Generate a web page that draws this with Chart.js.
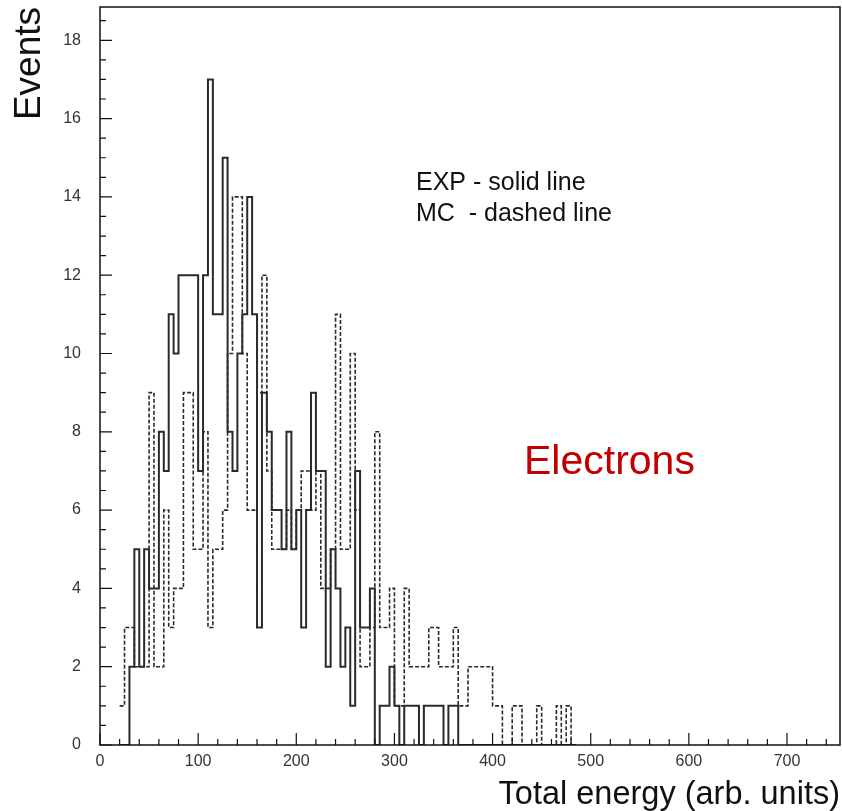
<!DOCTYPE html>
<html>
<head>
<meta charset="utf-8">
<title>Electrons - total energy</title>
<script src="https://cdn.jsdelivr.net/npm/chart.js@4.4.1/dist/chart.umd.min.js"></script>
<style>
  html, body { margin: 0; padding: 0; background: #fff; }
  #wrap { width: 842px; height: 811px; }
</style>
</head>
<body>
<div id="wrap"><canvas id="energyChart" width="842" height="811"></canvas></div>
<script>
// histogram binning, total energy in arb. units
const binStart = 20;
const binWidth = 5;

// EXP events per bin (solid line), first bin starts at binStart
const expCounts = [
  0, 0, 2, 5, 2, 5, 4, 4, 8, 7,
  11, 10, 12, 12, 12, 12, 7, 12, 17, 11,
  11, 15, 8, 7, 10, 11, 14, 11, 3, 9,
  8, 6, 6, 5, 8, 5, 6, 3, 6, 9,
  7, 7, 2, 5, 4, 2, 3, 1, 7, 3,
  3, 4, 0, 1, 1, 2, 1, 0, 1, 1,
  1, 0, 1, 1, 1, 1, 0, 1, 1, 0,
  0, 0, 0, 0, 0, 0, 0, 0, 0, 0,
  0, 0, 0, 0, 0, 0, 0, 0, 0, 0,
  0, 0, 0
];

// MC events per bin (dashed line)
const mcCounts = [
  1, 3, 3, 2, 2, 2, 9, 2, 2, 6,
  3, 4, 4, 9, 9, 5, 5, 8, 3, 5,
  5, 6, 10, 14, 14, 10, 6, 6, 9, 12,
  7, 5, 5, 5, 6, 5, 6, 7, 7, 6,
  7, 4, 4, 5, 11, 5, 5, 10, 6, 2,
  2, 3, 8, 3, 3, 4, 1, 1, 4, 2,
  2, 2, 2, 3, 3, 2, 2, 2, 3, 1,
  1, 2, 2, 2, 2, 2, 1, 1, 0, 0,
  1, 1, 0, 0, 0, 1, 0, 0, 0, 1,
  0, 1, 0
];

const xTicks = [0, 100, 200, 300, 400, 500, 600, 700];
const yTicks = [0, 2, 4, 6, 8, 10, 12, 14, 16, 18];

const legendLines = ['EXP - solid line', 'MC  - dashed line'];
const particleLabel = 'Electrons';

// bin edges -> step points, closed back to zero after the last bin
function toSteps(counts) {
  const pts = counts.map((c, i) => ({ x: binStart + i * binWidth, y: c }));
  pts.push({ x: binStart + counts.length * binWidth, y: 0 });
  return pts;
}

const tickFont = { family: '"Liberation Sans", Arial, sans-serif', size: 16 };

// frame, inward tick marks and the text inside the plot
const histFrame = {
  id: 'histFrame',
  afterDraw(chart) {
    const { ctx, chartArea: a, scales } = chart;
    const xs = scales.x, ys = scales.y;
    ctx.save();
    ctx.strokeStyle = '#111';
    ctx.lineWidth = 1.5;
    ctx.strokeRect(a.left, a.top, a.right - a.left, a.bottom - a.top);

    ctx.lineWidth = 1.2;
    ctx.beginPath();
    for (let v = 0; v <= xs.max; v += 20) {
      const px = xs.getPixelForValue(v);
      const len = v % 100 === 0 ? 12 : 6;
      ctx.moveTo(px, a.bottom);
      ctx.lineTo(px, a.bottom - len);
    }
    for (let v = 0; v <= ys.max; v += 0.5) {
      const py = ys.getPixelForValue(v);
      const len = v % 2 === 0 ? 12 : 6;
      ctx.moveTo(a.left, py);
      ctx.lineTo(a.left + len, py);
    }
    ctx.stroke();

    ctx.fillStyle = '#111';
    ctx.textBaseline = 'middle';
    ctx.textAlign = 'left';
    ctx.font = '25px "Liberation Sans", Arial, sans-serif';
    ctx.fillText(legendLines[0], xs.getPixelForValue(322), ys.getPixelForValue(14.35));
    ctx.fillText(legendLines[1], xs.getPixelForValue(322), ys.getPixelForValue(13.55));

    ctx.fillStyle = '#c00000';
    ctx.font = '41px "Liberation Sans", Arial, sans-serif';
    ctx.fillText(particleLabel, xs.getPixelForValue(432), ys.getPixelForValue(7.22));
    ctx.restore();
  }
};

const ctx = document.getElementById('energyChart').getContext('2d');
const energyChart = new Chart(ctx, {
  type: 'line',
  data: {
    datasets: [{
      label: 'EXP',
      data: toSteps(expCounts),
      stepped: 'before',
      borderColor: '#2a2a2a',
      borderWidth: 2,
      pointRadius: 0,
      fill: false
    }, {
      label: 'MC',
      data: toSteps(mcCounts),
      stepped: 'before',
      borderColor: '#2a2a2a',
      borderWidth: 1.6,
      borderDash: [4, 2],
      pointRadius: 0,
      fill: false
    }]
  },
  options: {
    responsive: false,
    animation: false,
    devicePixelRatio: 1,
    layout: { padding: { top: 7, right: 2, left: 0, bottom: 0 } },
    plugins: {
      legend: { display: false },
      tooltip: { enabled: false }
    },
    scales: {
      x: {
        type: 'linear',
        min: 0,
        max: 754,
        afterBuildTicks: s => { s.ticks = xTicks.map(v => ({ value: v })); },
        afterFit: s => { s.height = 66; s.paddingLeft = 0; s.paddingRight = 0; },
        grid: { display: false, drawTicks: false },
        border: { display: false },
        ticks: { color: '#333', font: tickFont, padding: 7, autoSkip: false, maxRotation: 0 },
        title: {
          display: true,
          text: 'Total energy (arb. units)',
          align: 'end',
          color: '#111',
          font: { family: '"Liberation Sans", Arial, sans-serif', size: 32.5, lineHeight: 1 },
          padding: { top: 0, bottom: 0 }
        }
      },
      y: {
        type: 'linear',
        min: 0,
        max: 18.85,
        afterBuildTicks: s => { s.ticks = yTicks.map(v => ({ value: v })); },
        afterFit: s => { s.width = 100; s.paddingTop = 0; s.paddingBottom = 0; },
        grid: { display: false, drawTicks: false },
        border: { display: false },
        ticks: { color: '#333', font: tickFont, padding: 19, autoSkip: false },
        title: {
          display: true,
          text: 'Events',
          align: 'end',
          color: '#111',
          font: { family: '"Liberation Sans", Arial, sans-serif', size: 37, lineHeight: 1 },
          padding: { top: 11, bottom: 0 }
        }
      }
    }
  },
  plugins: [histFrame]
});
</script>
</body>
</html>
